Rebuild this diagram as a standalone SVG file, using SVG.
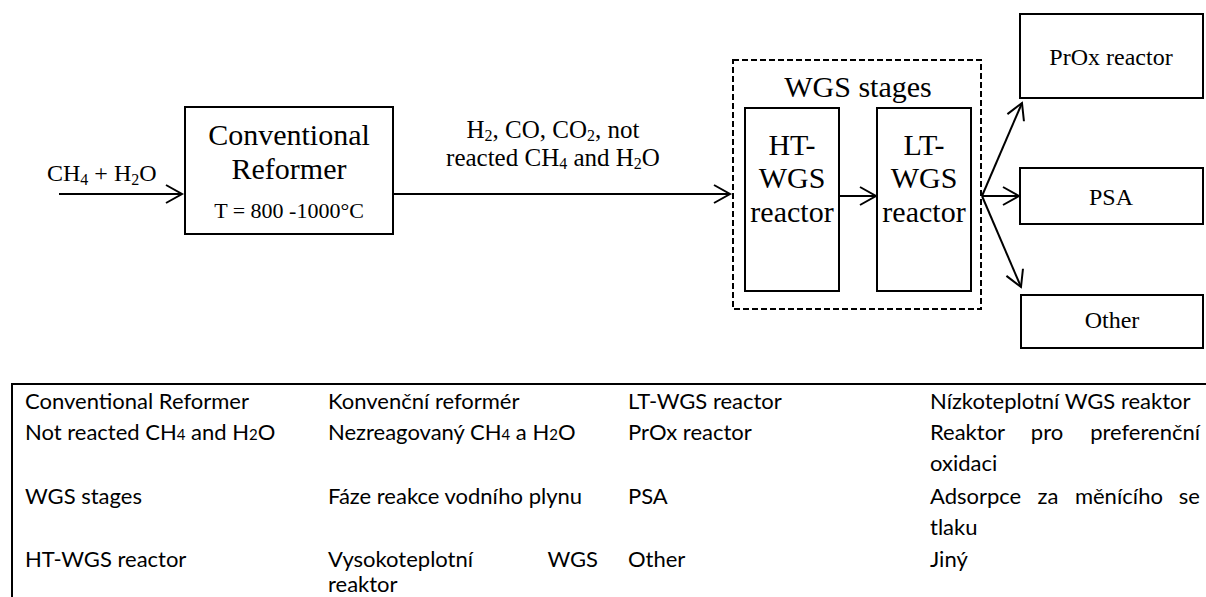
<svg xmlns="http://www.w3.org/2000/svg" width="1206" height="597" viewBox="0 0 1206 597">
<style>
  .box { fill: #fff; stroke: #000; stroke-width: 2; }
  .dash { fill: none; stroke: #000; stroke-width: 2; stroke-dasharray: 6 3; }
  .conn { stroke: #000; stroke-width: 2; fill: none; }
  .serif { font-family: "Liberation Serif", "Times New Roman", serif; fill: #000; }
  .tbl { font-family: Lato, "Liberation Sans", sans-serif; font-size: 22px; fill: #000; }
  .rule { stroke: #000; stroke-width: 2; }
</style>
<defs>
  <marker id="arr" markerUnits="userSpaceOnUse" viewBox="-18 -11 20 22" markerWidth="20" markerHeight="22" refX="0" refY="0" orient="auto" overflow="visible">
    <path d="M-16,-9 L0,0 L-16,9" fill="none" stroke="#000" stroke-width="2"/>
  </marker>
</defs>

<g id="connectors">
  <line class="conn" x1="59" y1="194" x2="182" y2="194" marker-end="url(#arr)"/>
  <line class="conn" x1="393" y1="194" x2="730" y2="194" marker-end="url(#arr)"/>
  <line class="conn" x1="839" y1="196" x2="876" y2="196" marker-end="url(#arr)"/>
  <line class="conn" x1="982" y1="196" x2="1022" y2="103" marker-end="url(#arr)"/>
  <line class="conn" x1="982" y1="196" x2="1019" y2="196" marker-end="url(#arr)"/>
  <line class="conn" x1="982" y1="196" x2="1021" y2="287" marker-end="url(#arr)"/>
  <text class="serif" font-size="24" x="47" y="181">CH<tspan font-size="16" dy="4">4</tspan><tspan dy="-4"> + H</tspan><tspan font-size="16" dy="4">2</tspan><tspan dy="-4">O</tspan></text>
  <text class="serif" font-size="25" x="553" y="138" text-anchor="middle">H<tspan font-size="16" dy="3">2</tspan><tspan dy="-3">, CO, CO</tspan><tspan font-size="16" dy="3">2</tspan><tspan dy="-3">, not</tspan></text>
  <text class="serif" font-size="25" x="553" y="166" text-anchor="middle">reacted CH<tspan font-size="16" dy="3">4</tspan><tspan dy="-3"> and H</tspan><tspan font-size="16" dy="3">2</tspan><tspan dy="-3">O</tspan></text>
</g>

<g id="reformer">
  <rect class="box" x="185" y="107" width="208" height="127"/>
  <text class="serif" font-size="30" x="289" y="145" text-anchor="middle">Conventional</text>
  <text class="serif" font-size="30" x="289" y="179" text-anchor="middle">Reformer</text>
  <text class="serif" font-size="22" x="289" y="218" text-anchor="middle">T = 800 -1000°C</text>
</g>

<g id="wgs-stages">
  <rect class="dash" x="733" y="60" width="248" height="249"/>
  <text class="serif" font-size="30" x="858" y="97" text-anchor="middle">WGS stages</text>
</g>

<g id="ht-wgs">
  <rect class="box" x="745" y="108" width="94" height="183"/>
  <text class="serif" font-size="30" x="792" y="155" text-anchor="middle">HT-</text>
  <text class="serif" font-size="30" x="792" y="188" text-anchor="middle">WGS</text>
  <text class="serif" font-size="30" x="792" y="222" text-anchor="middle">reactor</text>
</g>

<g id="lt-wgs">
  <rect class="box" x="877" y="108" width="94" height="183"/>
  <text class="serif" font-size="30" x="924" y="155" text-anchor="middle">LT-</text>
  <text class="serif" font-size="30" x="924" y="188" text-anchor="middle">WGS</text>
  <text class="serif" font-size="30" x="924" y="222" text-anchor="middle">reactor</text>
</g>

<g id="prox">
  <rect class="box" x="1020" y="14" width="183" height="84"/>
  <text class="serif" font-size="24" x="1111" y="65" text-anchor="middle">PrOx reactor</text>
</g>

<g id="psa">
  <rect class="box" x="1020" y="168" width="183" height="56"/>
  <text class="serif" font-size="24" x="1111" y="205" text-anchor="middle">PSA</text>
</g>

<g id="other">
  <rect class="box" x="1021" y="295" width="182" height="53"/>
  <text class="serif" font-size="24" x="1112" y="328" text-anchor="middle">Other</text>
</g>

<g id="legend-table">
  <line class="rule" x1="12" y1="384" x2="1206" y2="384"/>
  <line class="rule" x1="12" y1="383" x2="12" y2="597"/>

  <text class="tbl" x="25" y="409">Conventional Reformer</text>
  <text class="tbl" x="25" y="440">Not reacted CH<tspan font-size="15">4</tspan> and H<tspan font-size="15">2</tspan>O</text>
  <text class="tbl" x="25" y="504">WGS stages</text>
  <text class="tbl" x="25" y="567">HT-WGS reactor</text>

  <text class="tbl" x="328" y="409">Konvenční reformér</text>
  <text class="tbl" x="328" y="440">Nezreagovaný CH<tspan font-size="15">4</tspan> a H<tspan font-size="15">2</tspan>O</text>
  <text class="tbl" x="328" y="504">Fáze reakce vodního plynu</text>
  <text class="tbl" x="328" y="567">Vysokoteplotní</text>
  <text class="tbl" x="598" y="567" text-anchor="end">WGS</text>
  <text class="tbl" x="328" y="592">reaktor</text>

  <text class="tbl" x="628" y="409">LT-WGS reactor</text>
  <text class="tbl" x="628" y="440">PrOx reactor</text>
  <text class="tbl" x="628" y="504">PSA</text>
  <text class="tbl" x="628" y="567">Other</text>

  <text class="tbl" x="930" y="409">Nízkoteplotní WGS reaktor</text>
  <text class="tbl" x="930" y="440">Reaktor</text>
  <text class="tbl" x="1047" y="440" text-anchor="middle">pro</text>
  <text class="tbl" x="1200" y="440" text-anchor="end">preferenční</text>
  <text class="tbl" x="930" y="471">oxidaci</text>
  <text class="tbl" x="930" y="504">Adsorpce</text>
  <text class="tbl" x="1048" y="504" text-anchor="middle">za</text>
  <text class="tbl" x="1119" y="504" text-anchor="middle">měnícího</text>
  <text class="tbl" x="1200" y="504" text-anchor="end">se</text>
  <text class="tbl" x="930" y="535">tlaku</text>
  <text class="tbl" x="930" y="567">Jiný</text>
</g>
</svg>
